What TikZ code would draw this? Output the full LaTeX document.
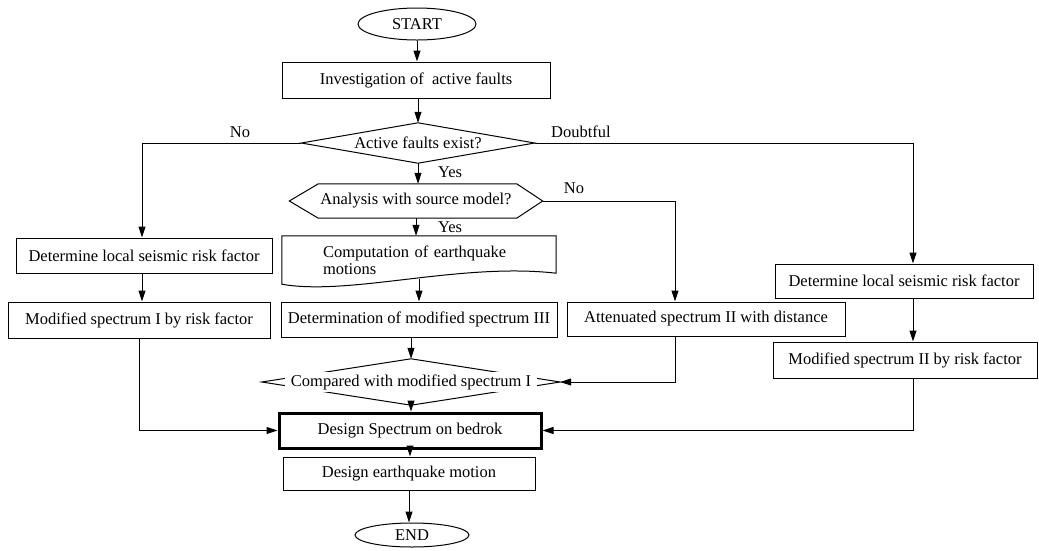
\documentclass[tikz,border=0pt]{standalone}
\usepackage{fontspec}
\setmainfont{Liberation Serif}
\usetikzlibrary{shapes.geometric,arrows.meta,calc}
\begin{document}
\begin{tikzpicture}[x=1pt,y=-1pt,
  every node/.style={font=\fontsize{16.5pt}{17pt}\selectfont},
  box/.style={draw, line width=1pt, inner sep=0pt},
  inv/.style={inner sep=0pt},
  term/.style={draw, ellipse, line width=1pt, inner sep=0pt},
  ln/.style={line width=1pt},
  arr/.style={line width=1pt, -{Triangle[length=11pt,width=7pt]}},
  lbl/.style={inner sep=0pt}]
\useasboundingbox[fill=white] (0,0) rectangle (1039,550);
% columns
\coordinate (colL) at (142,0);
\coordinate (colB) at (675,0);
\coordinate (colR) at (913,0);
% nodes
\node[term, minimum width=118pt, minimum height=32pt] (start) at (417,24) {START};
\node[box, minimum width=268pt, minimum height=36pt] (inv) at (416,80) {Investigation of\ \ active faults};
\node[inv, minimum width=233pt, minimum height=40pt] (act) at (418,143) {Active faults exist?};
\draw[ln] (act.west) -- (act.north) -- (act.east) -- (act.south) -- cycle;
\node[inv, minimum width=253pt, minimum height=34pt] (ana) at (416,201) {Analysis with source model?};
\draw[ln] (ana.west) -- ([xshift=29pt]ana.north west) -- ([xshift=-26pt]ana.north east) -- (ana.east)
  -- ([xshift=-26pt]ana.south east) -- ([xshift=29pt]ana.south west) -- cycle;
\node[inv, inner xsep=41pt, text width=192pt, align=left, minimum width=274pt, minimum height=48pt] (comp) at (419,260) {Computation of earthquake\\motions};
\draw[ln] (comp.north west) -- (comp.north east) -- ($(comp.south east)+(0,-11)$)
  .. controls ($(comp.south west)+(178,-22)$) and ($(comp.south west)+(68,12)$) .. (comp.south west) -- cycle;
\node[box, minimum width=256pt, minimum height=35pt] (detL) at (144,255.5) {Determine local seismic risk factor};
\node[box, minimum width=262pt, minimum height=36pt] (modI) at (139,320) {Modified spectrum I by risk factor};
\node[box, minimum width=276pt, minimum height=35pt] (det) at (419,319.5) {Determination of modified spectrum III};
\node[box, minimum width=278pt, minimum height=34pt] (att) at (706,319) {Attenuated spectrum II with distance};
\node[box, minimum width=258pt, minimum height=34pt] (detR) at (904,281) {Determine local seismic risk factor};
\node[box, minimum width=264pt, minimum height=36pt] (modII) at (905,360) {Modified spectrum II by risk factor};
\node[inv, minimum width=298pt, minimum height=46pt] (cmp) at (411,382) {};
\draw[ln] (cmp.west) -- (cmp.north) -- (cmp.east) -- (cmp.south) -- cycle;
\node[fill=white, inner xsep=6pt, inner ysep=2pt] (cmpt) at (cmp.center) {Compared with modified spectrum I};
\node[box, line width=3pt, minimum width=262pt, minimum height=35pt] (design) at (410,430.5) {Design Spectrum on bedrok};
\node[box, minimum width=252pt, minimum height=33pt] (deq) at (409,473.5) {Design earthquake motion};
\node[term, minimum width=114pt, minimum height=24pt] (end) at (412,535) {END};
% labels
\node[lbl] (lno1) at (240,132) {No};
\node[lbl] (ldoubt) at (581,132) {Doubtful};
\node[lbl] (lyes1) at (450,172) {Yes};
\node[lbl] (lyes2) at (450,227) {Yes};
\node[lbl] (lno2) at (574,188) {No};
% connectors
\draw[arr] (start.south) -- (start.south |- inv.north);
\draw[arr] (inv.south -| act.north) -- (act.north);
\draw[arr] (act.south) -- (act.south |- ana.north);
\draw[arr] (ana.south) -- (ana.south |- comp.north);
\draw[arr] ($(comp.south)+(0,-5)$) -- (comp.south |- det.north);
\draw[arr] (cmp.north |- det.south) -- (cmp.north);
\draw[arr] (cmp.south) -- (cmp.south |- design.north);
\draw[arr] (design.south) -- (design.south |- deq.north);
\draw[arr] (deq.south) -- (deq.south |- end.north);
\draw[arr] (act.west) -| (colL |- detL.north);
\draw[arr] (colL |- detL.south) -- (colL |- modI.north);
\draw[arr] (modI.south) |- (design.west);
\draw[arr] (act.east) -| (colR |- detR.north);
\draw[arr] (colR |- detR.south) -- (colR |- modII.north);
\draw[arr] (colR |- modII.south) |- (design.east);
\draw[arr] (ana.east) -| (colB |- att.north);
\draw[arr] (colB |- att.south) |- (cmp.east);
\end{tikzpicture}
\end{document}
